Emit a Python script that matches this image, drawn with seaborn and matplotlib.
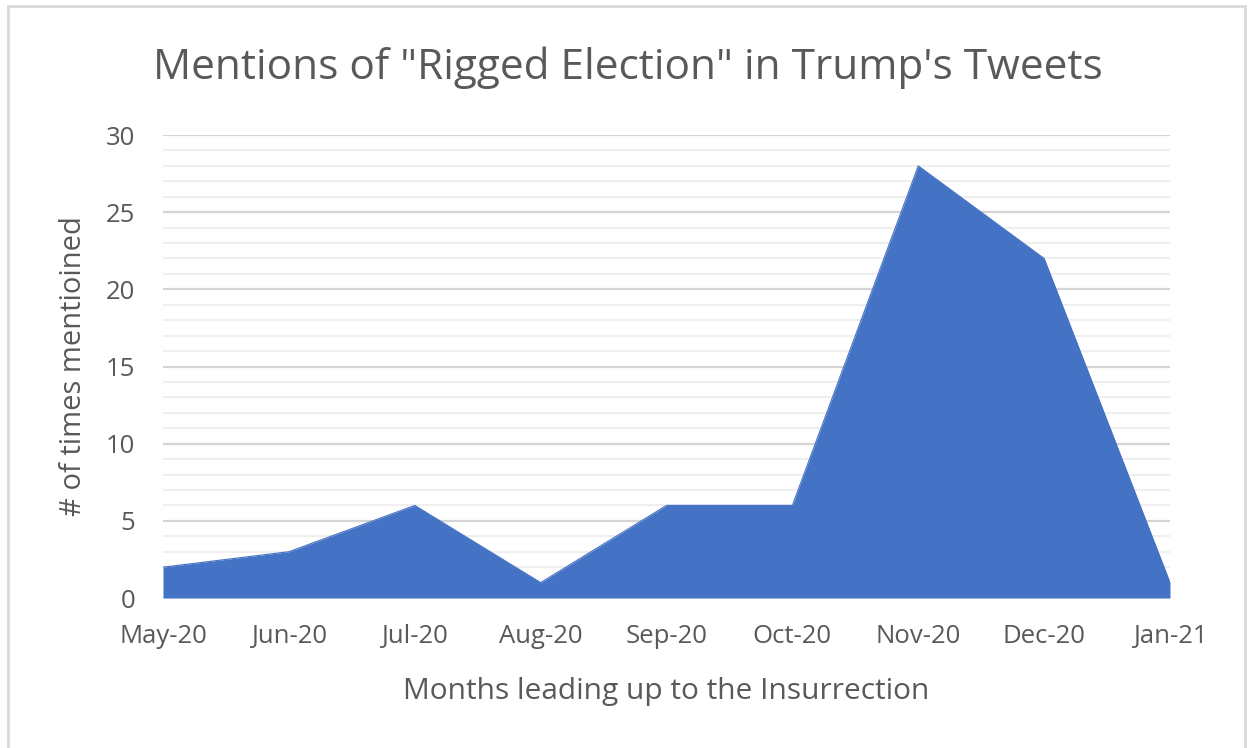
import numpy as np
import matplotlib.pyplot as plt
from matplotlib.patches import Rectangle
from matplotlib.ticker import MultipleLocator
import seaborn as sns

months = ["May-20", "Jun-20", "Jul-20", "Aug-20", "Sep-20", "Oct-20", "Nov-20", "Dec-20", "Jan-21"]
mentions = [2, 3, 6, 1, 6, 6, 28, 22, 1]

sns.set_theme(style="white")
plt.rcParams["font.family"] = ["Open Sans", "DejaVu Sans"]
text_col = "#595959"

fig = plt.figure(figsize=(12.5, 7.48), dpi=100)
ax = fig.add_axes([0.1304, 0.2005, 0.8056, 0.619])

xs = np.arange(len(months))
sns.lineplot(x=xs, y=mentions, ax=ax, color="#4472C4", linewidth=0.8)
ax.fill_between(xs, mentions, 0, color="#4472C4", lw=0, zorder=3)

ax.set_xlim(0, len(months) - 1)
ax.set_ylim(0, 30)
ax.yaxis.set_major_locator(MultipleLocator(5))
ax.yaxis.set_minor_locator(MultipleLocator(1))
ax.grid(axis="y", which="minor", color="#efefef", lw=1.5, zorder=0)
ax.grid(axis="y", which="major", color="#d4d4d4", lw=1.6, zorder=1)
ax.set_axisbelow(True)
for s in ax.spines.values():
    s.set_visible(False)

ax.set_xticks(xs)
ax.set_xticklabels(months)
ax.tick_params(axis="x", length=0, pad=19, labelsize=18.5, labelcolor=text_col)
ax.tick_params(axis="y", which="both", length=0, pad=20, labelsize=18.5, labelcolor=text_col)

ax.set_xlabel("Months leading up to the Insurrection", fontsize=21.5, color=text_col, labelpad=20)
ax.set_ylabel("# of times mentioined", fontsize=21, color=text_col, labelpad=13)
fig.text(0.502, 0.91, 'Mentions of "Rigged Election" in Trump\'s Tweets', ha="center", va="center",
         fontsize=30.5, color=text_col)

fig.patches.append(Rectangle((0.0064, -0.01), 0.9896, 1.002, transform=fig.transFigure,
                             fill=False, edgecolor="#d9d9d9", lw=2))

fig.savefig("out.png", dpi=100)
